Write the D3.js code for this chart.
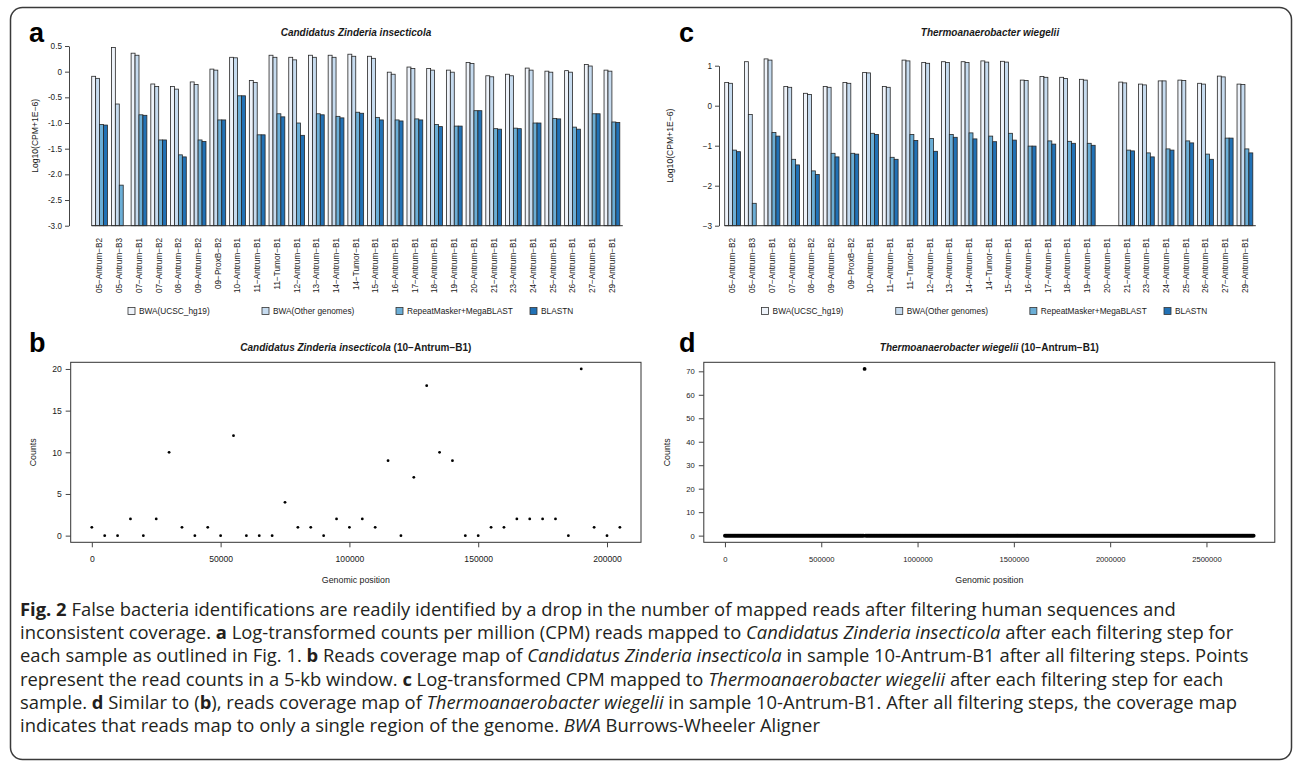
<!DOCTYPE html>
<html>
<head>
<meta charset="utf-8">
<script src="https://cdn.jsdelivr.net/npm/d3@7"></script>
<style>
  body { margin: 0; background: #fff; }
  svg text { font-family: "Liberation Sans", Arial, Helvetica, sans-serif; fill: #1a1a1a; }
  .caption text, text.caption { font-family: "Open Sans", "Noto Sans", sans-serif; fill: #231f20; }
</style>
</head>
<body>
<div id="fig"></div>
<script>
// ---- data ----
var samples = ["05-Antrum-B2", "05-Antrum-B3", "07-Antrum-B1", "07-Antrum-B2", "08-Antrum-B2",
  "09-Antrum-B2", "09-ProxB-B2", "10-Antrum-B1", "11-Antrum-B1", "11-Tumor-B1", "12-Antrum-B1",
  "13-Antrum-B1", "14-Antrum-B1", "14-Tumor-B1", "15-Antrum-B1", "16-Antrum-B1", "17-Antrum-B1",
  "18-Antrum-B1", "19-Antrum-B1", "20-Antrum-B1", "21-Antrum-B1", "23-Antrum-B1", "24-Antrum-B1",
  "25-Antrum-B1", "26-Antrum-B1", "27-Antrum-B1", "29-Antrum-B1"];

var methods = ["BWA(UCSC_hg19)", "BWA(Other genomes)", "RepeatMasker+MegaBLAST", "BLASTN"];
var methodColors = ["#eef3fa", "#c6dbef", "#6baed6", "#2171b5"];

// panel a : Candidatus Zinderia insecticola, log10(CPM+1e-6)
var zinderiaHg19   = [-0.09, 0.47, 0.36, -0.24, -0.29, -0.20, 0.05, 0.28, -0.17, 0.32, 0.28, 0.32, 0.32, 0.34,
  0.30, -0.01, 0.09, 0.06, 0.03, 0.18, -0.08, -0.05, 0.07, 0.01, 0.02, 0.14, 0.03];
var zinderiaOther  = [-0.13, -0.63, 0.32, -0.29, -0.34, -0.25, 0.03, 0.27, -0.21, 0.28, 0.23, 0.28, 0.28, 0.30,
  0.26, -0.05, 0.06, 0.03, -0.01, 0.16, -0.10, -0.08, 0.03, -0.01, -0.01, 0.11, 0.01];
var zinderiaRepeat = [-1.03, -2.21, -0.84, -1.33, -1.62, -1.33, -0.94, -0.47, -1.23, -0.82, -1.00, -0.82, -0.87, -0.79,
  -0.89, -0.94, -0.92, -1.03, -1.06, -0.76, -1.11, -1.10, -1.00, -0.91, -1.08, -0.82, -0.98];
var zinderiaBlastn = [-1.04, -3.00, -0.85, -1.33, -1.66, -1.36, -0.94, -0.47, -1.23, -0.88, -1.24, -0.84, -0.90, -0.81,
  -0.94, -0.96, -0.94, -1.07, -1.06, -0.76, -1.12, -1.11, -1.00, -0.92, -1.12, -0.82, -0.99];

// panel c : Thermoanaerobacter wiegelii, log10(CPM+1e-6)
var thermoHg19   = [0.58, 1.10, 1.17, 0.48, 0.31, 0.48, 0.58, 0.83, 0.48, 1.14, 1.08, 1.10, 1.10, 1.12,
  1.11, 0.64, 0.73, 0.71, 0.66, -3.00, 0.59, 0.54, 0.62, 0.64, 0.56, 0.74, 0.54];
var thermoOther  = [0.56, -0.22, 1.14, 0.46, 0.28, 0.46, 0.56, 0.82, 0.46, 1.12, 1.06, 1.08, 1.08, 1.09,
  1.09, 0.63, 0.71, 0.68, 0.64, -3.00, 0.57, 0.52, 0.62, 0.63, 0.54, 0.72, 0.53];
var thermoRepeat = [-1.11, -2.44, -0.67, -1.34, -1.63, -1.19, -1.19, -0.69, -1.29, -0.72, -0.82, -0.72, -0.68, -0.76,
  -0.69, -1.01, -0.88, -0.89, -0.94, -3.00, -1.11, -1.18, -1.08, -0.88, -1.21, -0.81, -1.08];
var thermoBlastn = [-1.15, -3.00, -0.76, -1.48, -1.72, -1.28, -1.21, -0.72, -1.34, -0.87, -1.14, -0.79, -0.83, -0.90,
  -0.86, -1.01, -0.96, -0.94, -0.99, -3.00, -1.13, -1.28, -1.11, -0.93, -1.34, -0.81, -1.18];

// panel b : read counts per 5-kb window, Zinderia, sample 10-Antrum-B1
var zinderiaCovPos = [0, 5000, 10000, 15000, 20000, 25000, 30000, 35000, 40000, 45000, 50000, 55000, 60000, 65000,
  70000, 75000, 80000, 85000, 90000, 95000, 100000, 105000, 110000, 115000, 120000, 125000, 130000, 135000,
  140000, 145000, 150000, 155000, 160000, 165000, 170000, 175000, 180000, 185000, 190000, 195000, 200000, 205000];
var zinderiaCovCounts = [1, 0, 0, 2, 0, 2, 10, 1, 0, 1, 0, 12, 0, 0,
  0, 4, 1, 1, 0, 2, 1, 2, 1, 9, 0, 7, 18, 10,
  9, 0, 0, 1, 1, 2, 2, 2, 2, 0, 20, 1, 0, 1];

// panel d : read counts per 5-kb window, Thermoanaerobacter, sample 10-Antrum-B1
// every window is empty except one
var thermoCovStep = 5000, thermoCovLast = 2745000;
var thermoPeakPos = [725000], thermoPeakCounts = [71];

var barTicksA = [0.5, 0, -0.5, -1, -1.5, -2, -2.5, -3];
var barTicksC = [1, 0, -1, -2, -3];
var covTicksB = { x: [0, 50000, 100000, 150000, 200000], y: [0, 5, 10, 15, 20] };
var covTicksD = { x: [0, 500000, 1000000, 1500000, 2000000, 2500000], y: [0, 10, 20, 30, 40, 50, 60, 70] };

// ---- drawing ----
var svg = d3.select("#fig").append("svg")
  .attr("width", 1295).attr("height", 763);

// rounded outer frame
svg.append("rect")
  .attr("x", 10.5).attr("y", 7.5).attr("width", 1281).attr("height", 752)
  .attr("rx", 12).attr("ry", 12)
  .attr("fill", "none").attr("stroke", "#3a3a3a").attr("stroke-width", 1.5);

var color = d3.scaleOrdinal().domain(methods).range(methodColors);

function panelLetter(x, y, s) {
  svg.append("text").attr("x", x).attr("y", y).text(s)
    .attr("font-size", "27px").attr("font-weight", "bold").style("fill", "#000");
}

function addTitle(g, cx, y, species, sample) {
  var t = g.append("text").attr("x", cx).attr("y", y)
    .attr("text-anchor", "middle").attr("font-size", "10px").attr("font-weight", "bold");
  t.append("tspan").attr("font-style", "italic").text(species);
  if (sample) t.append("tspan").text(" (" + sample.replace(/-/g, "\u2212") + ")");
}

function addBarPanel(cfg) {
  var g = svg.append("g");
  var values = cfg.values;

  var x = d3.scaleBand().domain(samples)
    .range([cfg.x0, cfg.x1]).paddingInner(0.2).paddingOuter(0);
  var xs = d3.scaleBand().domain(methods).range([0, x.bandwidth()]);
  var y = d3.scaleLinear().domain(cfg.yDomain).range([225.7, cfg.yTop]);

  // y axis
  var ya = g.append("g")
    .attr("transform", "translate(" + cfg.axisX + ",0)")
    .call(d3.axisLeft(y).tickValues(cfg.ticks).tickSize(4).tickSizeOuter(0).tickPadding(3)
      .tickFormat(cfg.fmt));
  ya.selectAll("path, line").attr("stroke", "#444");
  ya.selectAll("text").attr("font-size", "8.2px").style("font-family", "Liberation Sans, Arial, sans-serif");

  g.append("text")
    .attr("transform", "translate(" + cfg.ylabX + "," + ((y.range()[0] + y.range()[1]) / 2) + ") rotate(-90)")
    .attr("text-anchor", "middle").attr("font-size", "8.6px")
    .text("Log10(CPM+1E\u22126)");

  // bars
  var grp = g.selectAll("g.grp").data(samples).enter().append("g")
    .attr("transform", function(d) { return "translate(" + x(d) + ",0)"; });
  grp.selectAll("rect")
    .data(function(d, i) {
      return methods.map(function(m, j) { return { m: m, v: values[j][i] }; })
        .filter(function(e) { return e.v > cfg.yDomain[0]; });
    })
    .enter().append("rect")
      .attr("x", function(d) { return xs(d.m); })
      .attr("y", function(d) { return y(d.v); })
      .attr("width", xs.bandwidth())
      .attr("height", function(d) { return y(cfg.yDomain[0]) - y(d.v); })
      .attr("fill", function(d) { return color(d.m); })
      .attr("stroke", "#262626").attr("stroke-width", 0.8);

  // base line at the lower limit
  g.append("line")
    .attr("x1", x.range()[0]).attr("x2", x.range()[1] + 3)
    .attr("y1", y(cfg.yDomain[0])).attr("y2", y(cfg.yDomain[0]))
    .attr("stroke", "#333").attr("stroke-width", 1);

  // sample labels
  g.selectAll("text.xl").data(samples).enter().append("text")
    .attr("class", "xl")
    .attr("transform", function(d) { return "translate(" + (x(d) + x.bandwidth() / 2) + ",238) rotate(-90)"; })
    .attr("text-anchor", "end").attr("dy", "0.35em").attr("font-size", "8.2px")
    .text(function(d) { return d.replace(/-/g, "\u2212"); });

  // legend
  var lx = d3.scalePoint().domain(methods).range(cfg.legendRange);
  var leg = g.selectAll("g.leg").data(methods).enter().append("g")
    .attr("transform", function(d) { return "translate(" + lx(d) + ",311)"; });
  leg.append("rect").attr("x", -11).attr("y", -3.5).attr("width", 7).attr("height", 7)
    .attr("fill", function(d) { return color(d); }).attr("stroke", "#333").attr("stroke-width", 0.8);
  leg.append("text").attr("dy", "0.35em").attr("font-size", "8.3px").text(function(d) { return d; });

  addTitle(g, cfg.titleX, 36, cfg.species, null);
}

function addCoveragePanel(cfg) {
  var g = svg.append("g");
  var xe = d3.extent(cfg.pos), ye = [0, d3.max(cfg.counts)];
  var xp = (xe[1] - xe[0]) * 0.04, yp = (ye[1] - ye[0]) * 0.04;
  var x = d3.scaleLinear().domain([xe[0] - xp, xe[1] + xp]).range([cfg.left, cfg.right]);
  var y = d3.scaleLinear().domain([ye[0] - yp, ye[1] + yp]).range([542.3, 362.3]);

  g.append("rect")
    .attr("x", cfg.left).attr("y", 362.3)
    .attr("width", cfg.right - cfg.left).attr("height", 180)
    .attr("fill", "none").attr("stroke", "#333").attr("stroke-width", 1);

  var ya = g.append("g").attr("transform", "translate(" + cfg.left + ",0)")
    .call(d3.axisLeft(y).tickValues(cfg.ticks.y).tickSize(5).tickSizeOuter(0).tickPadding(4)
      .tickFormat(d3.format("d")));
  ya.select(".domain").remove();
  ya.selectAll("line").attr("stroke", "#444");
  ya.selectAll("text").attr("font-size", cfg.tickFont).style("font-family", "Liberation Sans, Arial, sans-serif");

  var xa = g.append("g").attr("transform", "translate(0,542.3)")
    .call(d3.axisBottom(x).tickValues(cfg.ticks.x).tickSize(5).tickSizeOuter(0).tickPadding(9)
      .tickFormat(d3.format("d")));
  xa.select(".domain").remove();
  xa.selectAll("line").attr("stroke", "#444");
  xa.selectAll("text").attr("font-size", cfg.tickFont).style("font-family", "Liberation Sans, Arial, sans-serif");

  g.selectAll("circle").data(cfg.pos).enter().append("circle")
    .attr("cx", function(d) { return x(d); })
    .attr("cy", function(d, i) { return y(cfg.counts[i]); })
    .attr("r", cfg.r).attr("fill", "#000");

  var cx = (cfg.left + cfg.right) / 2;
  g.append("text").attr("x", cx).attr("y", 583).attr("text-anchor", "middle")
    .attr("font-size", "8.8px").text("Genomic position");
  g.append("text")
    .attr("transform", "translate(" + cfg.ylabX + ",452.3) rotate(-90)")
    .attr("text-anchor", "middle").attr("font-size", "8.8px").text("Counts");

  addTitle(g, cx, 351, cfg.species, "10-Antrum-B1");
}

// panel a
panelLetter(29, 42, "a");
addBarPanel({
  values: [zinderiaHg19, zinderiaOther, zinderiaRepeat, zinderiaBlastn],
  x0: 91.7, x1: 619.8, axisX: 69, ylabX: 38,
  yDomain: [-3, 0.5], yTop: 46, ticks: barTicksA,
  fmt: function(d) { return d === 0 ? "0" : d.toFixed(1); },
  legendRange: [139, 541], titleX: 356,
  species: "Candidatus Zinderia insecticola"
});

// panel c
panelLetter(679, 42, "c");
addBarPanel({
  values: [thermoHg19, thermoOther, thermoRepeat, thermoBlastn],
  x0: 724.7, x1: 1252.8, axisX: 719, ylabX: 673,
  yDomain: [-3, 1], yTop: 65.7, ticks: barTicksC,
  fmt: d3.format("d"),
  legendRange: [772.6, 1175], titleX: 990,
  species: "Thermoanaerobacter wiegelii"
});

// panel b
panelLetter(29, 352, "b");
addCoveragePanel({
  pos: zinderiaCovPos, counts: zinderiaCovCounts,
  left: 70.7, right: 641, ylabX: 36, ticks: covTicksB, tickFont: "8.6px", r: 1.4,
  species: "Candidatus Zinderia insecticola"
});

// panel d
var thermoCovPos = d3.range(0, thermoCovLast + 1, thermoCovStep);
var thermoCovCounts = thermoCovPos.map(function(p) {
  var k = thermoPeakPos.indexOf(p);
  return k < 0 ? 0 : thermoPeakCounts[k];
});
panelLetter(679, 352, "d");
addCoveragePanel({
  pos: thermoCovPos, counts: thermoCovCounts,
  left: 703.8, right: 1274.8, ylabX: 670, ticks: covTicksD, tickFont: "7.6px", r: 1.9,
  species: "Thermoanaerobacter wiegelii"
});

// caption
var captionLines = [
  [["Fig. 2", "b"], [" False bacteria identifications are readily identified by a drop in the number of mapped reads after filtering human sequences and", ""]],
  [["inconsistent coverage. ", ""], ["a", "b"], [" Log-transformed counts per million (CPM) reads mapped to ", ""], ["Candidatus Zinderia insecticola", "i"], [" after each filtering step for", ""]],
  [["each sample as outlined in Fig. 1. ", ""], ["b", "b"], [" Reads coverage map of ", ""], ["Candidatus Zinderia insecticola", "i"], [" in sample 10-Antrum-B1 after all filtering steps. Points", ""]],
  [["represent the read counts in a 5-kb window. ", ""], ["c", "b"], [" Log-transformed CPM mapped to ", ""], ["Thermoanaerobacter wiegelii", "i"], [" after each filtering step for each", ""]],
  [["sample. ", ""], ["d", "b"], [" Similar to (", ""], ["b", "b"], ["), reads coverage map of ", ""], ["Thermoanaerobacter wiegelii", "i"], [" in sample 10-Antrum-B1. After all filtering steps, the coverage map", ""]],
  [["indicates that reads map to only a single region of the genome. ", ""], ["BWA", "i"], [" Burrows-Wheeler Aligner", ""]]
];
var cap = svg.append("g").attr("class", "caption");
captionLines.forEach(function(line, i) {
  var t = cap.append("text").attr("x", 20).attr("y", 616 + i * 23.2)
    .attr("font-size", "18.4px").style("white-space", "pre");
  line.forEach(function(seg) {
    var s = t.append("tspan").text(seg[0]);
    if (seg[1] === "b") s.attr("font-weight", "bold");
    if (seg[1] === "i") s.attr("font-style", "italic");
  });
});
</script>
</body>
</html>
